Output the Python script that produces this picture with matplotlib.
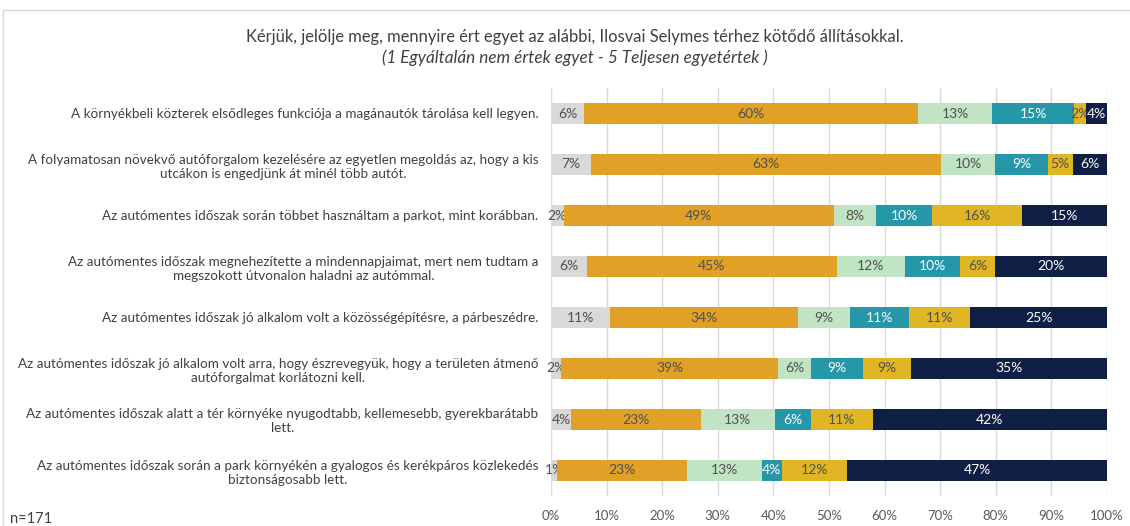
import matplotlib
matplotlib.use("Agg")
import matplotlib.pyplot as plt
from matplotlib.patches import Rectangle
import numpy as np

plt.rcParams['font.family'] = ['Lato', 'DejaVu Sans']

# Statements (one bar each), top to bottom
statements = [
    "A környékbeli közterek elsődleges funkciója a magánautók tárolása kell legyen.",
    "A folyamatosan növekvő autóforgalom kezelésére az egyetlen megoldás az, hogy a kis\nutcákon is engedjünk át minél több autót.",
    "Az autómentes időszak során többet használtam a parkot, mint korábban.",
    "Az autómentes időszak megnehezítette a mindennapjaimat, mert nem tudtam a\nmegszokott útvonalon haladni az autómmal.",
    "Az autómentes időszak jó alkalom volt a közösségépítésre, a párbeszédre.",
    "Az autómentes időszak jó alkalom volt arra, hogy észrevegyük, hogy a területen átmenő\nautóforgalmat korlátozni kell.",
    "Az autómentes időszak alatt a tér környéke nyugodtabb, kellemesebb, gyerekbarátabb\nlett.",
    "Az autómentes időszak során a park környékén a gyalogos és kerékpáros közlekedés\nbiztonságosabb lett.",
]

# shares in percent, per answer category
no_answer = [6.0, 7.2, 2.3, 6.4, 10.6, 1.8, 3.6, 1.1]
score_1 = [60.0, 62.9, 48.6, 45.0, 33.8, 39.1, 23.3, 23.4]
score_2 = [13.4, 9.8, 7.6, 12.3, 9.4, 5.8, 13.4, 13.4]
score_3 = [14.6, 9.4, 10.0, 9.9, 10.6, 9.4, 6.4, 3.6]
score_4 = [2.3, 4.6, 16.3, 6.3, 11.0, 8.7, 11.2, 11.8]
score_5 = [3.7, 6.1, 15.2, 20.1, 24.6, 35.2, 42.1, 46.7]

series = [no_answer, score_1, score_2, score_3, score_4, score_5]
colors = ['#D9D9D9', '#E0A126', '#C1E4C5', '#2597A9', '#E0B624', '#0E1E44']
text_colors = ['#505050', '#505050', '#505050', 'white', '#505050', 'white']

xticks = list(range(0, 101, 10))

fig = plt.figure(figsize=(11.3, 5.26), dpi=100)
ax = fig.add_axes([551 / 1130, 1 - 496 / 526, 556 / 1130, 408 / 526])

# chart frame
fig.patches.append(Rectangle((3 / 1130, -0.1), 1.2, 1 - 10 / 526 + 0.1,
                             transform=fig.transFigure, fill=False,
                             edgecolor='#D9D9D9', linewidth=1))

y = np.arange(len(statements))
left = np.zeros(len(statements))
for vals, col, tcol in zip(series, colors, text_colors):
    bars = ax.barh(y, vals, left=left, height=0.43, color=col, zorder=3)
    ax.bar_label(bars, labels=['%d%%' % round(v) for v in vals],
                 label_type='center', color=tcol, fontsize=10)
    left += np.array(vals)

ax.set_xlim(0, 100)
ax.set_ylim(len(statements) - 0.5, -0.5)
ax.set_xticks(xticks, ['%d%%' % t for t in xticks])
ax.set_yticks(y, statements)
for t in ax.get_yticklabels():
    t.set_multialignment('center')
ax.tick_params(axis='y', length=0, pad=9, labelsize=9.7, labelcolor='#404040')
ax.tick_params(axis='x', length=0, pad=10, labelsize=9.5, labelcolor='#595959')
ax.grid(axis='x', color='#D9D9D9', linewidth=1, zorder=0)
for s in ax.spines.values():
    s.set_visible(False)

fig.text(575 / 1130, 1 - 37 / 526,
         "Kérjük, jelölje meg, mennyire ért egyet az alábbi, Ilosvai Selymes térhez kötődő állításokkal.",
         ha='center', va='center', fontsize=11.9, color='#404040')
fig.text(575 / 1130, 1 - 58 / 526,
         "(1 Egyáltalán nem értek egyet - 5 Teljesen egyetértek )",
         ha='center', va='center', fontsize=12.3, color='#404040', style='italic')
fig.text(10 / 1130, 1 - 519 / 526, "n=171", ha='left', va='center',
         fontsize=10.5, color='#404040')

fig.savefig('out.png', dpi=100)
